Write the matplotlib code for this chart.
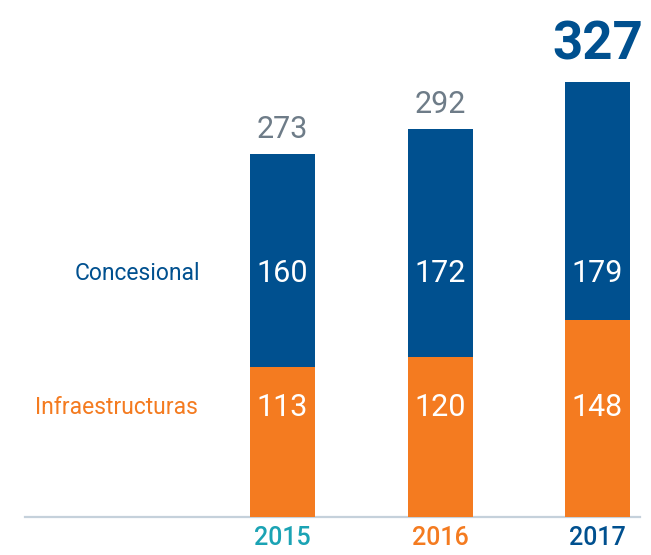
import matplotlib
matplotlib.use("Agg")
import matplotlib.pyplot as plt
import matplotlib.transforms as mtransforms

years = ["2015", "2016", "2017"]
infra = [113, 120, 148]
conces = [160, 172, 179]
totals = [273, 292, 327]
year_colors = ["#1ba3b4", "#f47b20", "#00508f"]

BLUE = "#00508f"
ORANGE = "#f47b20"
GRAY = "#6e7c88"

plt.rcParams['font.family'] = ['Roboto', 'DejaVu Sans']

W, H = 651, 555
fig = plt.figure(figsize=(W / 100, H / 100), dpi=100)
ax = fig.add_axes([0, 0, 1, 1])
ax.set_axis_off()

sp = 157.5
scale = 1.33
ax.set_xlim(-282.5 / sp, 2 + (W - 597.5) / sp)
ax.set_ylim(-(H - 517) / scale, 517 / scale)

x = list(range(len(years)))
bw = 65 / sp
ax.bar(x, infra, width=bw, color=ORANGE, zorder=2)
ax.bar(x, conces, bottom=infra, width=bw, color=BLUE, zorder=2)

ax.axhline(0, xmin=25 / W, xmax=640 / W, color="#c5d1db", lw=1.6, zorder=1)

trans = mtransforms.blended_transform_factory(ax.transData, ax.transAxes)
y_con = 1 - 273 / H
y_inf = 1 - 408 / H
y_year = 1 - 538 / H

for i in x:
    ax.text(i, y_con, str(conces[i]), transform=trans, ha="center", va="center",
            color="white", fontsize=22, zorder=3)
    ax.text(i, y_inf, str(infra[i]), transform=trans, ha="center", va="center",
            color="white", fontsize=22, zorder=3)
    ax.text(i, y_year, years[i], transform=trans, ha="center", va="center",
            color=year_colors[i], fontsize=18, fontweight="medium")
    if i == len(x) - 1:
        ax.annotate(str(totals[i]), (i, totals[i]), xytext=(0, 8), textcoords="offset points",
                    ha="center", va="bottom", color=BLUE, fontsize=38, fontweight="bold")
    else:
        ax.annotate(str(totals[i]), (i, totals[i]), xytext=(0, 7), textcoords="offset points",
                    ha="center", va="bottom", color=GRAY, fontsize=22)

tax = ax.transAxes
ax.text(200 / W, y_con, "Concesional", transform=tax, ha="right", va="center",
        color=BLUE, fontsize=16.5)
ax.text(198 / W, y_inf, "Infraestructuras", transform=tax, ha="right", va="center",
        color=ORANGE, fontsize=16.5)

fig.savefig("out.png", dpi=100)
